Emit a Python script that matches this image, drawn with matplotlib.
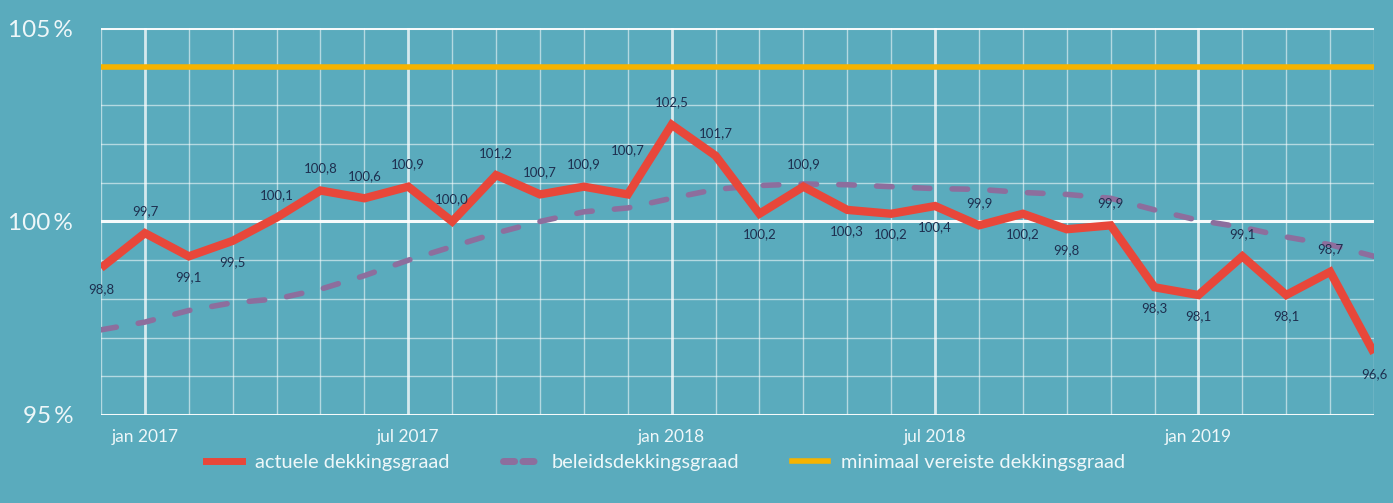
import matplotlib.pyplot as plt
from matplotlib.lines import Line2D
import numpy as np

# maanden dec 2016 t/m mei 2019
months = ["dec 2016", "jan 2017", "feb 2017", "mrt 2017", "apr 2017", "mei 2017", "jun 2017",
          "jul 2017", "aug 2017", "sep 2017", "okt 2017", "nov 2017", "dec 2017",
          "jan 2018", "feb 2018", "mrt 2018", "apr 2018", "mei 2018", "jun 2018",
          "jul 2018", "aug 2018", "sep 2018", "okt 2018", "nov 2018", "dec 2018",
          "jan 2019", "feb 2019", "mrt 2019", "apr 2019", "mei 2019"]

actueel = [98.8, 99.7, 99.1, 99.5, 100.1, 100.8, 100.6, 100.9, 100.0, 101.2, 100.7, 100.9, 100.7,
           102.5, 101.7, 100.2, 100.9, 100.3, 100.2, 100.4, 99.9, 100.2, 99.8, 99.9, 98.3,
           98.1, 99.1, 98.1, 98.7, 96.6]

beleid = [97.2, 97.4, 97.7, 97.9, 98.0, 98.25, 98.6, 99.0, 99.35, 99.7, 100.0, 100.25, 100.35,
          100.6, 100.83, 100.93, 100.97, 100.95, 100.9, 100.85, 100.83, 100.75, 100.7, 100.6, 100.3,
          100.03, 99.85, 99.6, 99.4, 99.1]

minimaal = 104.0

# 1 = label boven punt, -1 = label onder punt
label_side = [-1, 1, -1, -1, 1, 1, 1, 1, 1, 1, 1, 1, 1,
              1, 1, -1, 1, -1, -1, -1, 1, -1, -1, 1, -1,
              -1, 1, -1, 1, -1]

xtick_idx = [1, 7, 13, 19, 25]
xtick_labels = ["jan 2017", "jul 2017", "jan 2018", "jul 2018", "jan 2019"]
ytick_vals = [95, 100, 105]

BG = "#5aabbd"
RED = "#e8473a"
PURPLE = "#8d6e9d"
YELLOW = "#f6b300"
NAVY = "#1e2f4f"
TXT = "#eef7f9"

plt.rcParams['font.family'] = ['Lato', 'DejaVu Sans']

fig = plt.figure(figsize=(13.93, 5.03), dpi=100, facecolor=BG)
ax = fig.add_axes([0.0725, 0.175, 0.9139, 0.7693])
ax.set_facecolor(BG)

x = np.arange(len(months))
ax.set_xlim(0, len(months) - 1)
ax.set_ylim(95, 105)

# rasterlijnen
for i in x:
    major = i in xtick_idx
    ax.axvline(i, color="white", lw=2.0 if major else 1.0, alpha=0.75 if major else 0.55, zorder=1)
for v in range(95, 106):
    if v in ytick_vals:
        continue
    ax.axhline(v, color="white", lw=1.0, alpha=0.55, zorder=1)
for v in ytick_vals:
    ax.axhline(v, color="white", lw=2.2, alpha=0.95, zorder=1.5)

ax.plot(x, [minimaal] * len(x), color=YELLOW, lw=4, solid_capstyle="round", zorder=3)
ax.plot(x, beleid, color=PURPLE, lw=4, ls=(0, (2.8, 4.0)), dash_capstyle="round", zorder=3)
ax.plot(x, actueel, color=RED, lw=6, solid_joinstyle="miter", solid_capstyle="butt", zorder=4)

for i, (v, s) in enumerate(zip(actueel, label_side)):
    off = 16 if s > 0 else -15
    if i == 12:
        off = 32
    ax.annotate(f"{v:.1f}".replace(".", ","), (i, v), xytext=(0, off), textcoords="offset points",
                ha="center", va="center", fontsize=9.5, color=NAVY, zorder=5)

for s in ax.spines.values():
    s.set_visible(False)

ax.set_xticks(xtick_idx)
ax.set_xticklabels(xtick_labels, color=TXT, fontsize=12.5)
ax.set_yticks(ytick_vals)
ax.set_yticklabels([f"{v}\u2009%" for v in ytick_vals], color=TXT, fontsize=17.5)
ax.tick_params(length=0, pad=10)
ax.tick_params(axis="y", pad=20)

handles = [Line2D([], [], color=RED, lw=5),
           Line2D([], [], color=PURPLE, lw=5, ls=(0, (1.6, 1.2)), dash_capstyle="round"),
           Line2D([], [], color=YELLOW, lw=4)]
labels = ["actuele dekkingsgraad", "beleidsdekkingsgraad", "minimaal vereiste dekkingsgraad"]
fig.legend(handles, labels, loc="center", bbox_to_anchor=(0.478, 0.08), ncol=3, frameon=False,
           fontsize=14.4, labelcolor=TXT, handlelength=1.8, columnspacing=2.65, handletextpad=0.65)

fig.savefig("out.png", dpi=100, facecolor=BG)
